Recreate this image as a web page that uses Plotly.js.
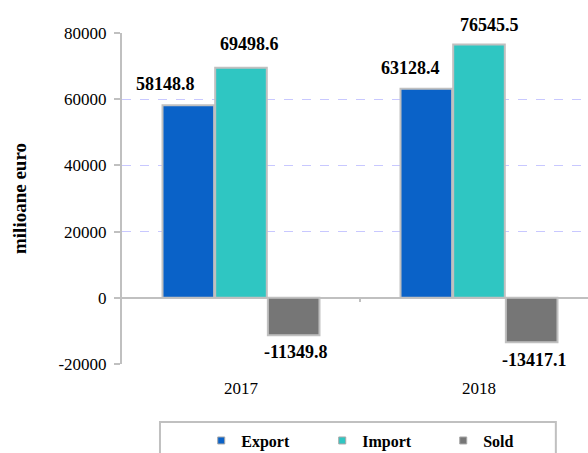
<!DOCTYPE html>
<html>
<head>
<meta charset="utf-8">
<script src="https://cdn.plot.ly/plotly-3.0.1.min.js"></script>
<style>html,body{margin:0;padding:0;background:#fff;}#chart{width:588px;height:453px;}</style>
</head>
<body>
<div id="chart"></div>
<script>
const categories = ["2017", "2018"];
const exportValues = [58148.8, 63128.4];
const importValues = [69498.6, 76545.5];
const soldValues = [-11349.8, -13417.1];
const seriesNames = ["Export", "Import", "Sold"];
const yTicks = [-20000, 0, 20000, 40000, 60000, 80000];
const gridTicks = [20000, 40000, 60000];

const serif = "Liberation Serif";
const colors = ["#0a62c8", "#2fc6c2", "#767676"];
const seriesData = [exportValues, importValues, soldValues];
// label placement offsets in pixels (style only): [series][category] = [dx, dy]
const labelOffsets = [
  [[-23, 21], [-16, 21]],
  [[8, 24], [10, 19]],
  [[2, -17], [3, -18]]
];

const traces = seriesData.map((vals, i) => ({
  type: "bar",
  name: seriesNames[i],
  x: categories,
  y: vals,
  marker: {color: colors[i], line: {color: "#c0c0c0", width: 2}},
  showlegend: false,
  hoverinfo: "none"
}));
// legend entries with small square keys
seriesNames.forEach((n, i) => {
  traces.push({
    type: "scatter", mode: "markers", name: n,
    x: [null], y: [null],
    marker: {symbol: "square", size: 7, color: colors[i], line: {color: "#a8a8a8", width: 1}},
    hoverinfo: "none"
  });
});
// invisible trace to carry the grid axis
traces.push({type: "scatter", x: categories, y: [0, 0], yaxis: "y2", mode: "none", showlegend: false, hoverinfo: "none"});

const barW = 0.664 / 3;
const annotations = [];
seriesData.forEach((vals, i) => {
  vals.forEach((v, j) => {
    annotations.push({
      x: j + (i - 1) * barW,
      y: v,
      xref: "x", yref: "y",
      text: "<b>" + v.toFixed(1) + "</b>",
      showarrow: false,
      xshift: labelOffsets[i][j][0],
      yshift: labelOffsets[i][j][1],
      font: {family: serif, size: 18, color: "#000"}
    });
  });
});

const layout = {
  width: 588, height: 453,
  margin: {l: 122, r: 0, t: 33, b: 89, autoexpand: false},
  paper_bgcolor: "#fff", plot_bgcolor: "#fff",
  barmode: "group",
  bargap: 0.336,
  bargroupgap: 0.02,
  showlegend: true,
  legend: {
    orientation: "h",
    x: 0.17, xanchor: "left",
    y: -0.18, yanchor: "top",
    font: {family: serif, size: 16, color: "#000", weight: "bold"},
    entrywidth: 76, entrywidthmode: "pixels",
    itemwidth: 30,
    bgcolor: "rgba(0,0,0,0)"
  },
  xaxis: {
    type: "category",
    range: [-0.5, 1.458],
    showline: false, showgrid: false, zeroline: false,
    ticks: "", ticklabelstandoff: 12,
    tickfont: {family: serif, size: 17, color: "#000"},
    fixedrange: true
  },
  yaxis: {
    range: [-20000, 80000],
    tickvals: yTicks,
    ticktext: yTicks.map(String),
    showline: true, linecolor: "#c0c0c0", linewidth: 2,
    ticks: "outside", ticklen: 6, tickcolor: "#c0c0c0", tickwidth: 2,
    showgrid: false,
    zeroline: true, zerolinecolor: "#c0c0c0", zerolinewidth: 2,
    tickfont: {family: serif, size: 17, color: "#000"},
    ticklabelstandoff: 4,
    title: {text: "<b>milioane euro</b>", font: {family: serif, size: 19, color: "#000"}, standoff: 27},
    fixedrange: true
  },
  yaxis2: {
    overlaying: "y", matches: "y", side: "left",
    range: [-20000, 80000],
    tickvals: gridTicks, showticklabels: false, ticks: "",
    showgrid: true, gridcolor: "#c8c8ff", gridwidth: 1, griddash: "dash",
    zeroline: false, showline: false, fixedrange: true
  },
  shapes: [
    {type: "rect", xref: "paper", yref: "paper", x0: 0.0815, x1: 0.931, y0: -0.175, y1: -0.35,
     line: {color: "#c0c0c0", width: 2}, fillcolor: "rgba(0,0,0,0)", layer: "below"},
    {type: "line", xref: "x", yref: "y", x0: 0.5, x1: 0.5, y0: 0, y1: -1300,
     line: {color: "#c0c0c0", width: 2}}
  ],
  annotations: annotations
};

Plotly.newPlot("chart", traces, layout, {displayModeBar: false, staticPlot: true});
</script>
</body>
</html>
